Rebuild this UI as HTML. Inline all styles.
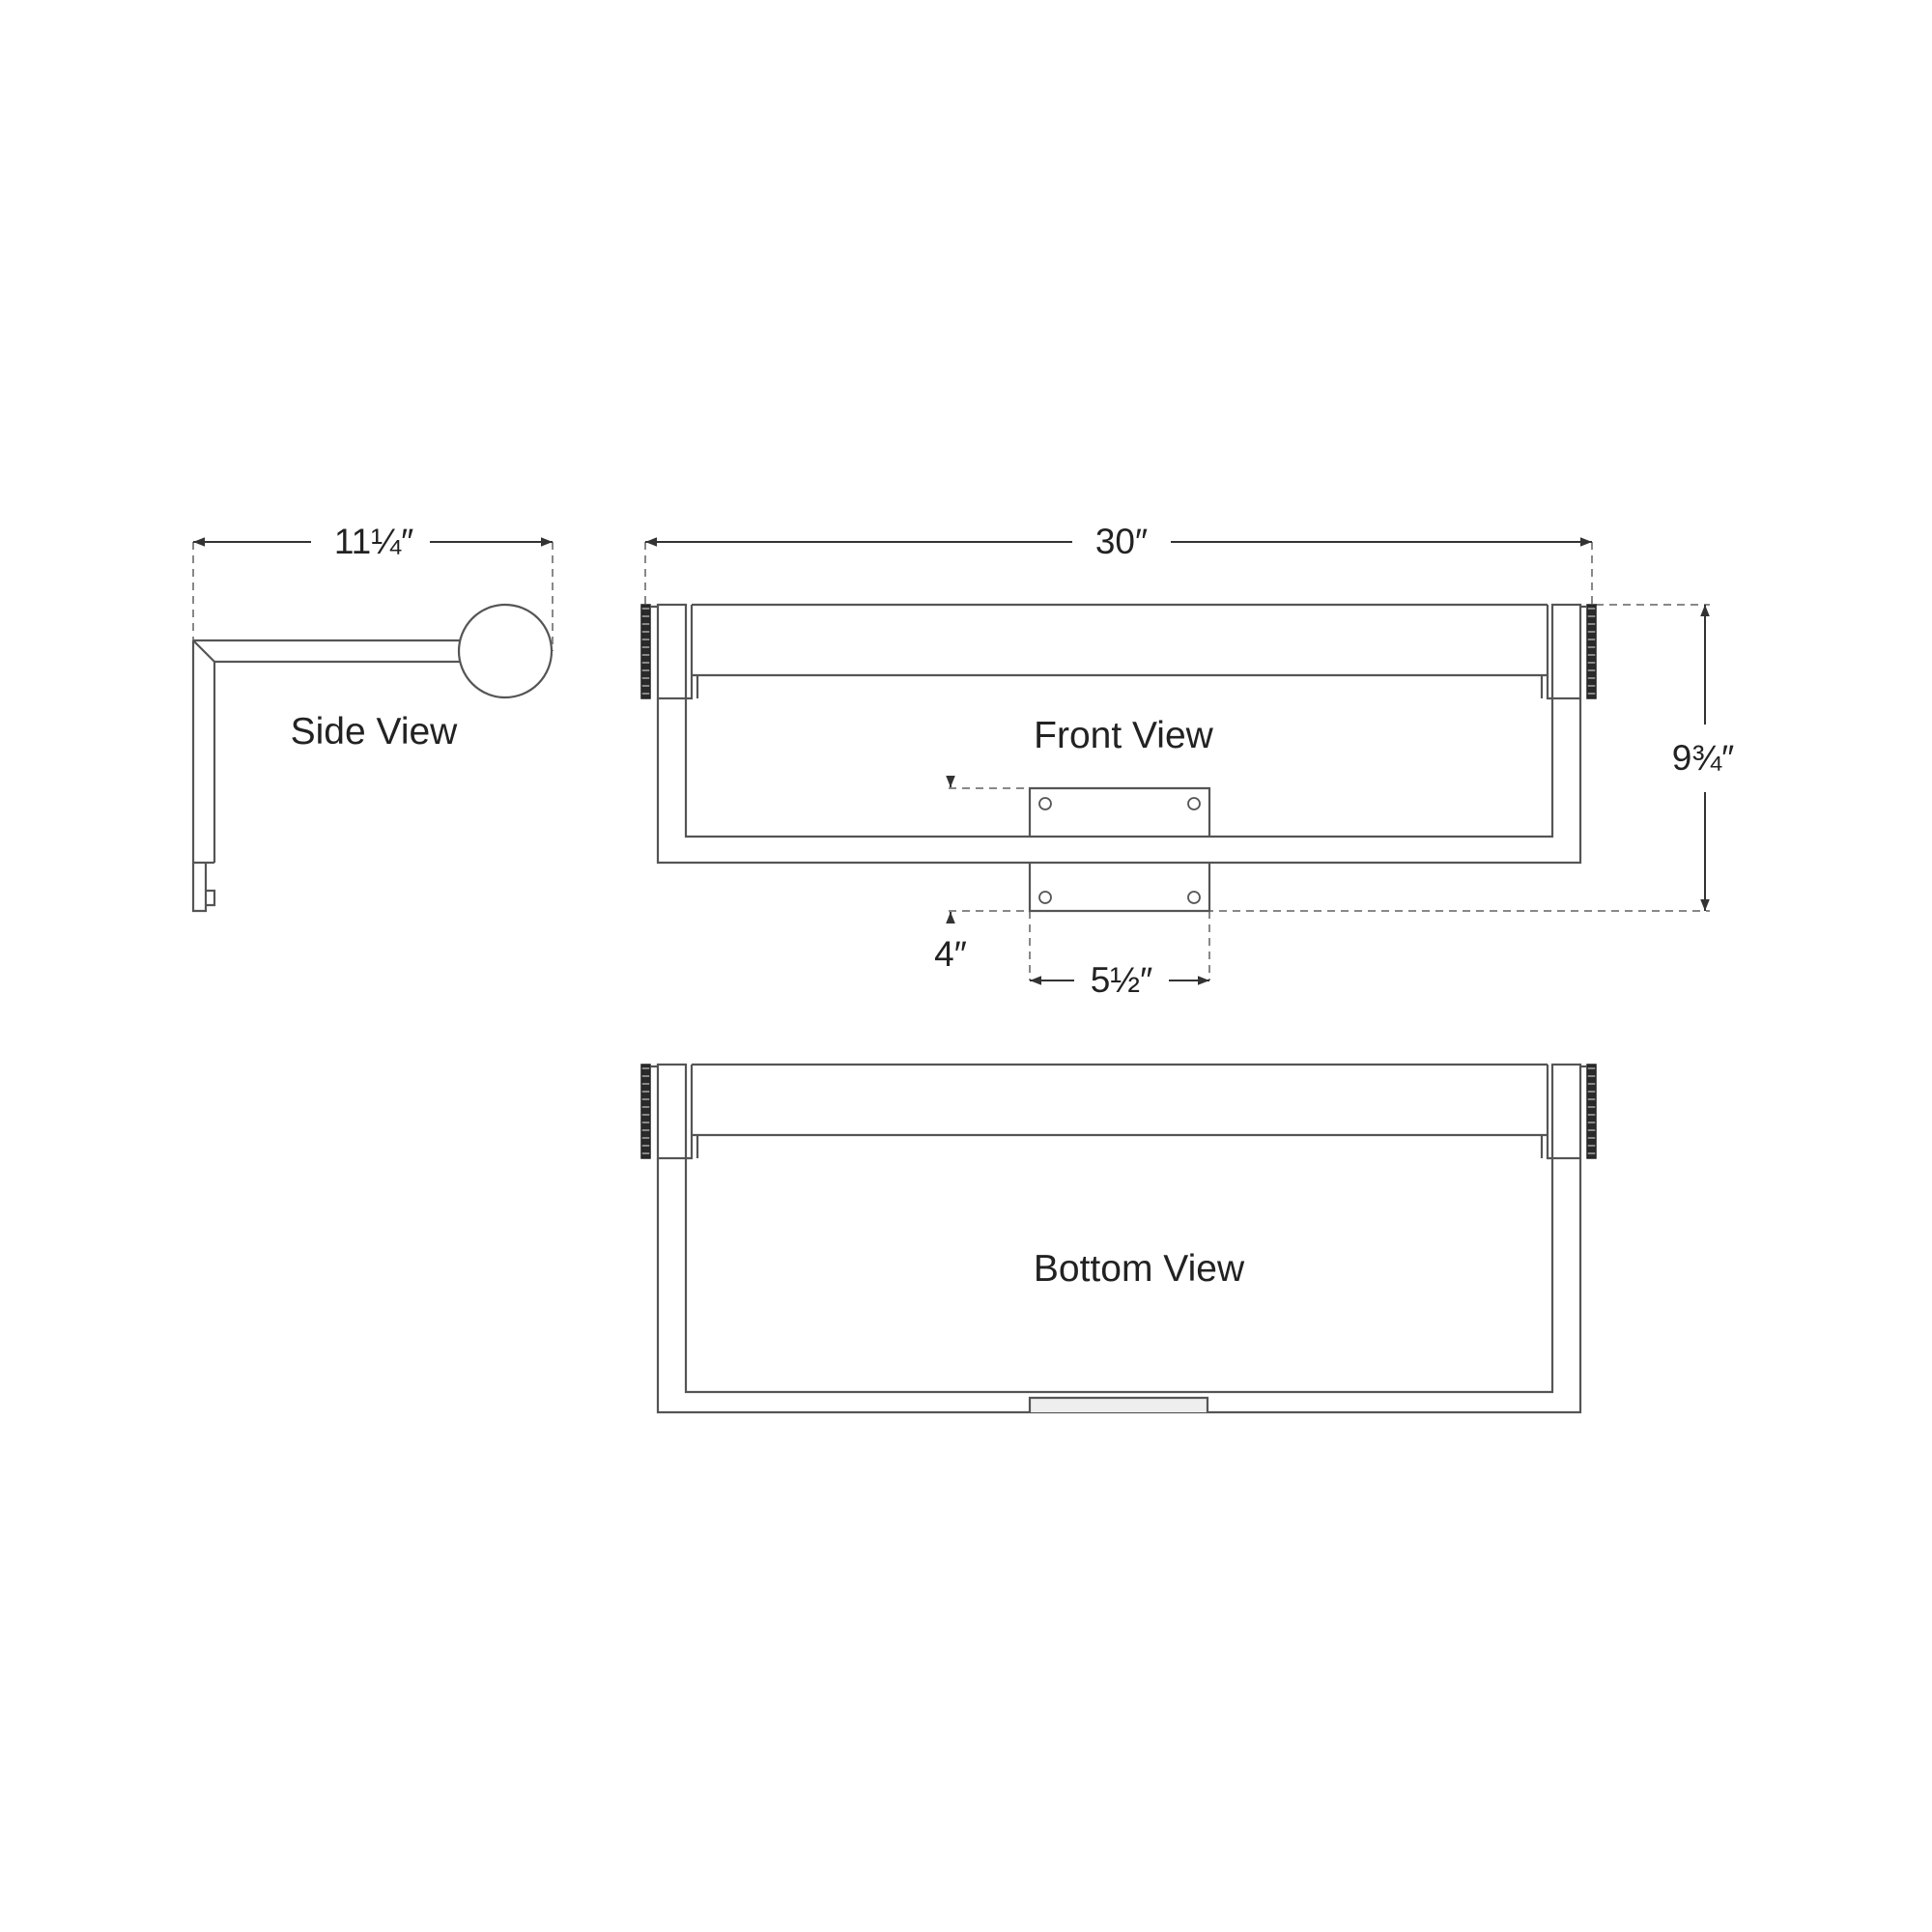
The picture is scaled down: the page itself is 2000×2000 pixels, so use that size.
<!DOCTYPE html>
<html><head><meta charset="utf-8"><style>html,body{margin:0;padding:0;background:#fff}svg{display:block}</style></head>
<body>
<svg width="2000" height="2000" viewBox="0 0 2000 2000" xmlns="http://www.w3.org/2000/svg" font-family="Liberation Sans, sans-serif" fill="none" stroke="#555" stroke-width="2.2">
<defs>
<pattern id="kn" width="10" height="8" patternUnits="userSpaceOnUse"><rect width="10" height="8" fill="#2a2a2a" stroke="none"/><rect y="5" width="10" height="2" fill="#888" stroke="none"/></pattern>
<marker id="ar" viewBox="0 0 10 10" refX="10" refY="5" markerWidth="6" markerHeight="6" orient="auto-start-reverse"><path d="M0,1 L10,5 L0,9 z" fill="#333" stroke="none"/></marker>
</defs>
<g stroke-dasharray="8,6" stroke="#888" stroke-width="2">
<line x1="200" y1="561" x2="200" y2="663"/><line x1="572" y1="561" x2="572" y2="674"/>
<line x1="668" y1="561" x2="668" y2="626"/><line x1="1648" y1="561" x2="1648" y2="626"/>
<line x1="1652" y1="626" x2="1770" y2="626"/>
<line x1="982" y1="816" x2="1066" y2="816"/>
<line x1="982" y1="943" x2="1770" y2="943"/>
<line x1="1066" y1="943" x2="1066" y2="1015"/><line x1="1252" y1="943" x2="1252" y2="1015"/>
</g>
<g stroke="#333" stroke-width="2">
<line x1="200" y1="561" x2="322" y2="561" marker-start="url(#ar)"/><line x1="445" y1="561" x2="572" y2="561" marker-end="url(#ar)"/>
<line x1="668" y1="561" x2="1110" y2="561" marker-start="url(#ar)"/><line x1="1212" y1="561" x2="1648" y2="561" marker-end="url(#ar)"/>
<line x1="1765" y1="626" x2="1765" y2="750" marker-start="url(#ar)"/><line x1="1765" y1="820" x2="1765" y2="943" marker-end="url(#ar)"/>
<line x1="1066" y1="1015" x2="1112" y2="1015" marker-start="url(#ar)"/><line x1="1210" y1="1015" x2="1252" y2="1015" marker-end="url(#ar)"/>
<line x1="984" y1="807" x2="984" y2="815" marker-end="url(#ar)"/><line x1="984" y1="952" x2="984" y2="944" marker-end="url(#ar)"/>
</g>
<g fill="#222" stroke="none" text-anchor="middle">
<text x="387" y="573" font-size="37">11¼″</text>
<text x="1161" y="573" font-size="37">30″</text>
<text x="1763" y="797" font-size="37">9¾″</text>
<text x="984" y="1000" font-size="37">4″</text>
<text x="1161" y="1027" font-size="37">5½″</text>
<text x="387" y="770" font-size="39">Side View</text>
<text x="1163" y="774" font-size="39">Front View</text>
<text x="1179" y="1326" font-size="39">Bottom View</text>
</g>
<!-- side view -->
<path d="M200,663 L476,663 M222,685 L478,685 M200,663 L222,685 M200,663 L200,893 M222,685 L222,893 M200,893 L222,893"/>
<circle cx="523" cy="674" r="48" fill="#fff"/>
<path d="M200,893 L200,943 L213,943 L213,893 M213,922 L222,922 L222,937 L213,937"/>
<g id="v">
<rect x="664" y="626" width="9" height="97" fill="url(#kn)" stroke="#222" stroke-width="1.5"/>
<rect x="1643" y="626" width="9" height="97" fill="url(#kn)" stroke="#222" stroke-width="1.5"/>
<rect x="681" y="626" width="29" height="97"/>
<rect x="1607" y="626" width="29" height="97"/>
<path d="M673,628 L681,628 M1636,628 L1643,628"/>
<path d="M716,626 L1602,626 M716,626 L716,723 L710,723 M1602,626 L1602,723 L1607,723 M716,699 L1602,699 M722,699 L722,723 M1596,699 L1596,723"/>
</g>
<path d="M681,723 L681,893 L1636,893 L1636,723 M710,723 L710,866 L1607,866 L1607,723"/>
<path d="M1066,866 L1066,816 L1252,816 L1252,866 M1066,893 L1066,943 L1252,943 L1252,893"/>
<g stroke-width="1.8"><circle cx="1082" cy="832" r="6"/><circle cx="1236" cy="832" r="6"/><circle cx="1082" cy="929" r="6"/><circle cx="1236" cy="929" r="6"/></g>
<use href="#v" transform="translate(0,476)"/>
<path d="M681,1199 L681,1462 L1636,1462 L1636,1199 M710,1199 L710,1441 L1607,1441 L1607,1199"/>
<path d="M1066,1462 L1066,1447 L1250,1447 L1250,1462" fill="#eee"/>
</svg>
</body></html>
